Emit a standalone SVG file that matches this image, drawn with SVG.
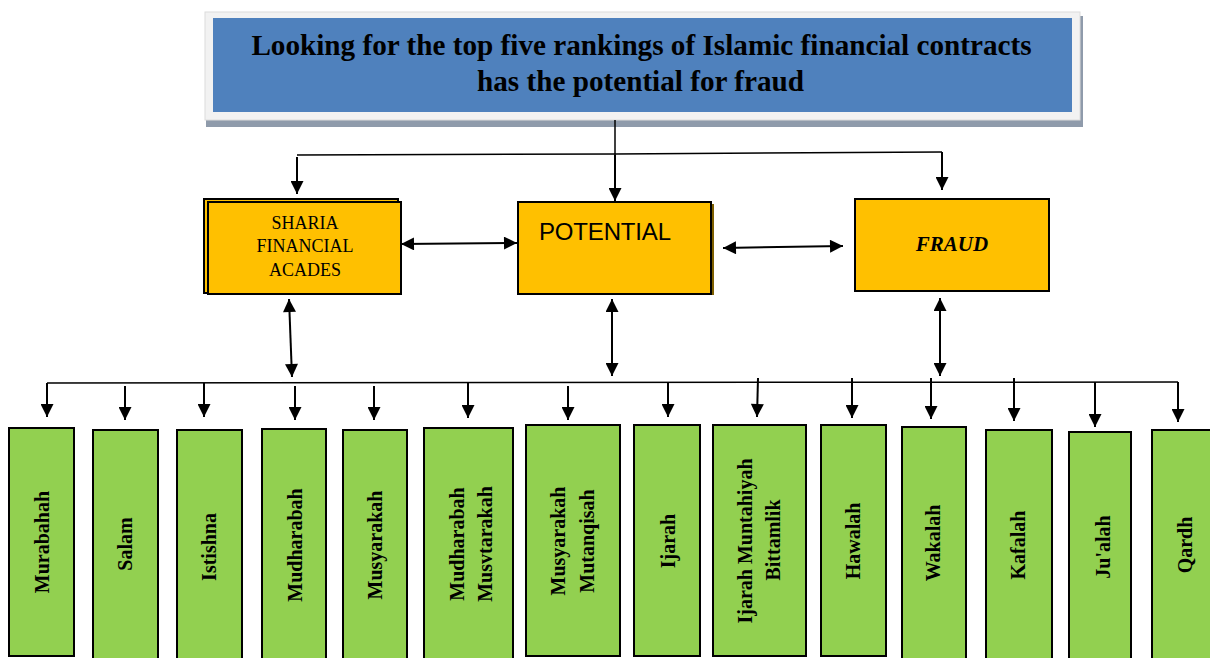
<svg xmlns="http://www.w3.org/2000/svg" width="1210" height="658" viewBox="0 0 1210 658">
<style>
.title{font-family:"Liberation Serif",serif;font-weight:bold;font-size:29.2px;fill:#000;text-anchor:middle}
.orange{fill:#ffc000;stroke:#000;stroke-width:2}
.green{fill:#92d050;stroke:#000;stroke-width:2}
.lab{font-family:"Liberation Serif",serif;font-weight:bold;font-size:20px;fill:#000;text-anchor:middle}
.con{stroke:#000;stroke-width:2;fill:none}
.thin{stroke:#000;stroke-width:1.5;fill:none}
</style>
<defs>
<marker id="ah" viewBox="0 0 10 10" refX="10" refY="5" markerWidth="14" markerHeight="13" markerUnits="userSpaceOnUse" orient="auto-start-reverse">
<path d="M0,0 L10,5 L0,10 z" fill="#000"/>
</marker>
</defs>
<rect width="1210" height="658" fill="#fff"/>

<g id="title">
<rect x="206" y="16" width="877" height="111" fill="#8f9bab"/>
<rect x="205" y="12" width="875" height="108" fill="#f2f2f2" stroke="#dcdcdc" stroke-width="1"/>
<rect x="213" y="18" width="859" height="94" fill="#4f81bd"/>
<text class="title" x="641.5" y="55">Looking for the top five rankings of Islamic financial contracts</text>
<text class="title" x="640.5" y="91">has the potential for fraud</text>
</g>

<g id="connectors">
<path class="thin" d="M615,120 V155"/>
<path class="thin" d="M297,155 L615,154 L942,152"/>
<path class="con" d="M297,157 V194" marker-end="url(#ah)"/>
<path class="con" d="M615,155 V201" marker-end="url(#ah)"/>
<path class="con" d="M942,152 V190" marker-end="url(#ah)"/>
<path class="con" d="M401,244 L517,243" marker-start="url(#ah)" marker-end="url(#ah)"/>
<path class="con" d="M723,248 L843,246" marker-start="url(#ah)" marker-end="url(#ah)"/>
<path class="con" d="M289,299 L292,377" marker-start="url(#ah)" marker-end="url(#ah)"/>
<path class="con" d="M612,299 V376" marker-start="url(#ah)" marker-end="url(#ah)"/>
<path class="con" d="M940,298 V376" marker-start="url(#ah)" marker-end="url(#ah)"/>
<path class="thin" d="M47,383 L1178,382"/>
<path class="con" d="M47,383 V417" marker-end="url(#ah)"/>
<path class="con" d="M125,386 V420" marker-end="url(#ah)"/>
<path class="con" d="M204,383 V417" marker-end="url(#ah)"/>
<path class="con" d="M295,386 V420" marker-end="url(#ah)"/>
<path class="con" d="M374,386 V420" marker-end="url(#ah)"/>
<path class="con" d="M468,383 V418" marker-end="url(#ah)"/>
<path class="con" d="M568,386 V420" marker-end="url(#ah)"/>
<path class="con" d="M668,383 V417" marker-end="url(#ah)"/>
<path class="con" d="M758,378 L757,417" marker-end="url(#ah)"/>
<path class="con" d="M852,378 V418" marker-end="url(#ah)"/>
<path class="con" d="M931,378 V419" marker-end="url(#ah)"/>
<path class="con" d="M1014,378 V421" marker-end="url(#ah)"/>
<path class="con" d="M1095,382 V427" marker-end="url(#ah)"/>
<path class="con" d="M1178,382 V422" marker-end="url(#ah)"/>
</g>

<g id="sharia">
<rect class="orange" x="204" y="199" width="194" height="94"/>
<rect class="orange" x="208" y="202" width="193" height="92"/>
<text x="305" y="229" font-family="Liberation Serif,serif" font-size="18" text-anchor="middle">SHARIA</text>
<text x="305" y="252" font-family="Liberation Serif,serif" font-size="18" text-anchor="middle">FINANCIAL</text>
<text x="305" y="276" font-family="Liberation Serif,serif" font-size="18" text-anchor="middle">ACADES</text>
</g>

<g id="potential">
<rect x="521" y="204" width="193" height="91" fill="#7f6000"/>
<rect class="orange" x="518" y="202" width="193" height="92"/>
<text x="539" y="240" font-family="Liberation Sans,sans-serif" font-size="24" textLength="132">POTENTIAL</text>
</g>

<g id="fraud">
<rect class="orange" x="855" y="199" width="194" height="92"/>
<text x="952" y="251" font-family="Liberation Serif,serif" font-size="21" font-weight="bold" font-style="italic" text-anchor="middle">FRAUD</text>
</g>

<g id="murabahah">
<rect class="green" x="9" y="428" width="65" height="228"/>
<text class="lab" transform="translate(49,542) rotate(-90)">Murabahah</text>
</g>
<g id="salam">
<rect class="green" x="93" y="430" width="65" height="232"/>
<text class="lab" transform="translate(132,544) rotate(-90)">Salam</text>
</g>
<g id="istishna">
<rect class="green" x="177" y="430" width="65" height="232"/>
<text class="lab" transform="translate(216,547) rotate(-90)">Istishna</text>
</g>
<g id="mudharabah">
<rect class="green" x="262" y="429" width="64" height="232"/>
<text class="lab" transform="translate(302,545) rotate(-90)">Mudharabah</text>
</g>
<g id="musyarakah">
<rect class="green" x="343" y="430" width="64" height="232"/>
<text class="lab" transform="translate(382,545) rotate(-90)">Musyarakah</text>
</g>
<g id="mudharabah-musvtarakah">
<rect class="green" x="424" y="428" width="89" height="234"/>
<text class="lab" transform="translate(464,544) rotate(-90)">Mudharabah</text>
<text class="lab" transform="translate(492,544) rotate(-90)">Musvtarakah</text>
</g>
<g id="musyarakah-mutanqisah">
<rect class="green" x="526" y="425" width="94" height="231"/>
<text class="lab" transform="translate(565,541) rotate(-90)">Musyarakah</text>
<text class="lab" transform="translate(594,541) rotate(-90)">Mutanqisah</text>
</g>
<g id="ijarah">
<rect class="green" x="634" y="425" width="66" height="231"/>
<text class="lab" transform="translate(675,541) rotate(-90)">Ijarah</text>
</g>
<g id="ijarah-muntahiyah-bittamlik">
<rect class="green" x="713" y="425" width="93" height="231"/>
<text class="lab" transform="translate(752,541) rotate(-90)">Ijarah Muntahiyah</text>
<text class="lab" transform="translate(780,540) rotate(-90)">Bittamlik</text>
</g>
<g id="hawalah">
<rect class="green" x="821" y="425" width="65" height="231"/>
<text class="lab" transform="translate(860,541) rotate(-90)">Hawalah</text>
</g>
<g id="wakalah">
<rect class="green" x="902" y="427" width="64" height="235"/>
<text class="lab" transform="translate(940,543) rotate(-90)">Wakalah</text>
</g>
<g id="kafalah">
<rect class="green" x="986" y="430" width="66" height="232"/>
<text class="lab" transform="translate(1025,545) rotate(-90)">Kafalah</text>
</g>
<g id="jualah">
<rect class="green" x="1069" y="432" width="62" height="230"/>
<text class="lab" transform="translate(1110,547) rotate(-90)">Ju'alah</text>
</g>
<g id="qardh">
<rect class="green" x="1152" y="430" width="65" height="232"/>
<text class="lab" transform="translate(1192,545) rotate(-90)">Qardh</text>
</g>
</svg>
